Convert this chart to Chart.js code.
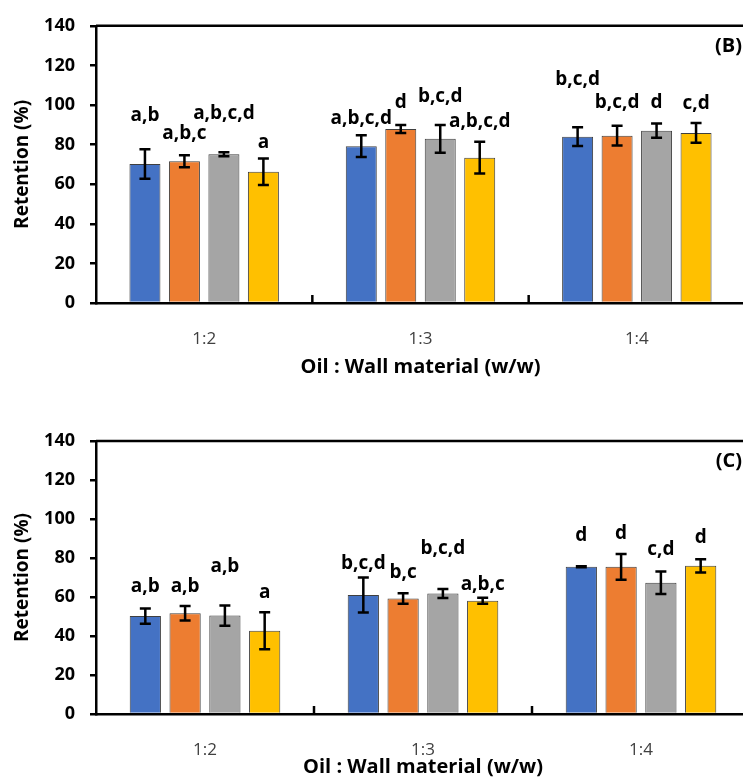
<!DOCTYPE html>
<html>
<head>
<meta charset="utf-8">
<script src="https://cdn.jsdelivr.net/npm/chart.js@4.4.1/dist/chart.umd.min.js"></script>
<style>
  html, body { margin: 0; padding: 0; background: #ffffff; overflow: hidden; width: 743px; height: 779px; }
  .panel { position: absolute; left: 0; }
  #wrapB { top: 0; }
  #wrapC { top: 380px; }
</style>
</head>
<body>
<div class="panel" id="wrapB"><canvas id="chartB" width="760" height="380"></canvas></div>
<div class="panel" id="wrapC"><canvas id="chartC" width="760" height="399"></canvas></div>
<script>
// ---------- data ----------
const categories = ['1:2', '1:3', '1:4'];
const seriesNames = ['Series 1', 'Series 2', 'Series 3', 'Series 4'];
const yMin = 0, yMax = 140, yStep = 20;
const xTitle = 'Oil : Wall material (w/w)';
const yTitle = 'Retention (%)';

// Panel (B)
const retentionB1 = [70.2, 79.2, 84.0];
const retentionB2 = [71.6, 87.9, 84.5];
const retentionB3 = [75.1, 82.9, 87.0];
const retentionB4 = [66.3, 73.4, 85.9];
const errorB1 = [7.5, 5.5, 4.7];
const errorB2 = [3.0, 2.0, 5.0];
const errorB3 = [1.0, 7.0, 3.6];
const errorB4 = [6.7, 8.0, 5.0];
const lettersB1 = ['a,b', 'a,b,c,d', 'b,c,d'];
const lettersB2 = ['a,b,c', 'd', 'b,c,d'];
const lettersB3 = ['a,b,c,d', 'b,c,d', 'd'];
const lettersB4 = ['a', 'a,b,c,d', 'c,d'];
// letter baseline level (in % units, as placed in the figure)
const letterLevelB1 = [92.0, 90.3, 110.3];
const letterLevelB2 = [82.6, 98.7, 98.7];
const letterLevelB3 = [92.8, 101.6, 98.7];
const letterLevelB4 = [78.4, 88.7, 98.2];

// Panel (C)
const retentionC1 = [50.2, 61.0, 75.5];
const retentionC2 = [51.7, 59.2, 75.5];
const retentionC3 = [50.5, 61.8, 67.3];
const retentionC4 = [42.7, 58.1, 76.0];
const errorC1 = [3.9, 9.0, 0.3];
const errorC2 = [3.7, 2.7, 6.6];
const errorC3 = [5.2, 2.3, 5.8];
const errorC4 = [9.5, 1.5, 3.4];
const lettersC1 = ['a,b', 'b,c,d', 'd'];
const lettersC2 = ['a,b', 'b,c', 'd'];
const lettersC3 = ['a,b', 'b,c,d', 'c,d'];
const lettersC4 = ['a', 'a,b,c', 'd'];
const letterLevelC1 = [62.7, 74.3, 88.8];
const letterLevelC2 = [62.7, 69.5, 89.5];
const letterLevelC3 = [72.6, 82.3, 81.5];
const letterLevelC4 = [59.3, 63.5, 87.8];

// ---------- styles ----------
const seriesColors = ['#4472C4', '#ED7D31', '#A5A5A5', '#FFC000'];
const FONT = "'Open Sans', 'DejaVu Sans', sans-serif";

const decorPlugin = {
  id: 'decor',
  afterDatasetsDraw(chart) {
    const { ctx, scales: { y } } = chart;
    ctx.save();
    // error bars
    ctx.strokeStyle = '#000000';
    ctx.lineWidth = 2.5;
    ctx.lineCap = 'butt';
    chart.data.datasets.forEach((ds, di) => {
      const meta = chart.getDatasetMeta(di);
      meta.data.forEach((bar, i) => {
        const v = ds.data[i], e = ds.errors[i];
        const yt = y.getPixelForValue(v + e), yb = y.getPixelForValue(v - e);
        const cx = bar.x, cap = 5.5;
        ctx.beginPath();
        ctx.moveTo(cx, yt); ctx.lineTo(cx, yb);
        ctx.moveTo(cx - cap, yt); ctx.lineTo(cx + cap, yt);
        ctx.moveTo(cx - cap, yb); ctx.lineTo(cx + cap, yb);
        ctx.stroke();
      });
    });
    // significance letters
    ctx.fillStyle = '#000000';
    ctx.font = 'bold 19px ' + FONT;
    ctx.textAlign = 'center';
    ctx.textBaseline = 'alphabetic';
    chart.data.datasets.forEach((ds, di) => {
      const meta = chart.getDatasetMeta(di);
      meta.data.forEach((bar, i) => {
        ctx.fillText(ds.letters[i], bar.x, y.getPixelForValue(ds.letterLevels[i]));
      });
    });
    ctx.restore();
  },
  afterDraw(chart) {
    const { ctx, chartArea: a, scales: { x } } = chart;
    const cfg = chart.options.plugins.decor;
    ctx.save();
    ctx.strokeStyle = '#000000';
    ctx.lineWidth = 2.5;
    // plot-area frame (top and right)
    ctx.beginPath();
    ctx.moveTo(a.left, a.top);
    ctx.lineTo(a.right, a.top);
    ctx.lineTo(a.right, a.bottom);
    ctx.stroke();
    // category boundary tick marks (inward)
    for (let i = 0; i < x.ticks.length - 1; i++) {
      const px = (x.getPixelForValue(i) + x.getPixelForValue(i + 1)) / 2;
      ctx.beginPath();
      ctx.moveTo(px, a.bottom);
      ctx.lineTo(px, a.bottom - 8);
      ctx.stroke();
    }
    // panel tag
    ctx.fillStyle = '#000000';
    ctx.font = 'bold 20px ' + FONT;
    ctx.textAlign = 'right';
    ctx.textBaseline = 'middle';
    ctx.fillText(cfg.tag, cfg.tagX, a.top + 20);
    ctx.restore();
  }
};

function makePanel(canvasId, values, errors, letters, levels, tag, geo) {
  const datasets = values.map((vals, k) => ({
    label: seriesNames[k],
    data: vals,
    errors: errors[k],
    letters: letters[k],
    letterLevels: levels[k],
    backgroundColor: seriesColors[k],
    borderColor: '#3f3f3f',
    borderWidth: 1,
    categoryPercentage: 0.73,
    barPercentage: 0.785
  }));
  return new Chart(document.getElementById(canvasId), {
    type: 'bar',
    data: { labels: categories, datasets },
    plugins: [decorPlugin],
    options: {
      responsive: false,
      animation: false,
      devicePixelRatio: 1,
      layout: { padding: { top: geo.top, right: geo.right, bottom: 0, left: 0 } },
      plugins: {
        legend: { display: false },
        tooltip: { enabled: false },
        decor: { tag, tagX: 742 }
      },
      scales: {
        x: {
          z: 1,
          grid: { display: false, drawTicks: false },
          border: { display: true, color: '#000000', width: 2.5 },
          ticks: { color: '#404040', font: { family: FONT, size: 17 }, padding: 26 },
          title: { display: true, text: xTitle, color: '#000000',
                   font: { family: FONT, size: 20, weight: 'bold' }, padding: { top: 0, bottom: geo.xTitlePad } },
          afterFit: (s) => { s.height = geo.xHeight; }
        },
        y: {
          z: 1,
          min: yMin, max: yMax,
          grid: { display: true, drawOnChartArea: false, drawTicks: true, tickLength: 6,
                  tickWidth: 2.5, tickColor: '#000000', color: '#000000', lineWidth: 2.5 },
          border: { display: true, color: '#000000', width: 2.5 },
          ticks: { stepSize: yStep, color: '#000000', padding: 15,
                   font: { family: FONT, size: 18, weight: 'bold' } },
          title: { display: true, text: yTitle, color: '#000000',
                   font: { family: FONT, size: 19, weight: 'bold' }, padding: { top: 11, bottom: 0 } },
          afterFit: (s) => { s.width = 96; }
        }
      }
    }
  });
}

makePanel('chartB',
  [retentionB1, retentionB2, retentionB3, retentionB4],
  [errorB1, errorB2, errorB3, errorB4],
  [lettersB1, lettersB2, lettersB3, lettersB4],
  [letterLevelB1, letterLevelB2, letterLevelB3, letterLevelB4],
  '(B)', { top: 22, right: 15, xHeight: 77, xTitlePad: 1 });

makePanel('chartC',
  [retentionC1, retentionC2, retentionC3, retentionC4],
  [errorC1, errorC2, errorC3, errorC4],
  [lettersC1, lettersC2, lettersC3, lettersC4],
  [letterLevelC1, letterLevelC2, letterLevelC3, letterLevelC4],
  '(C)', { top: 61, right: 10, xHeight: 65, xTitlePad: 0 });
</script>
</body>
</html>
